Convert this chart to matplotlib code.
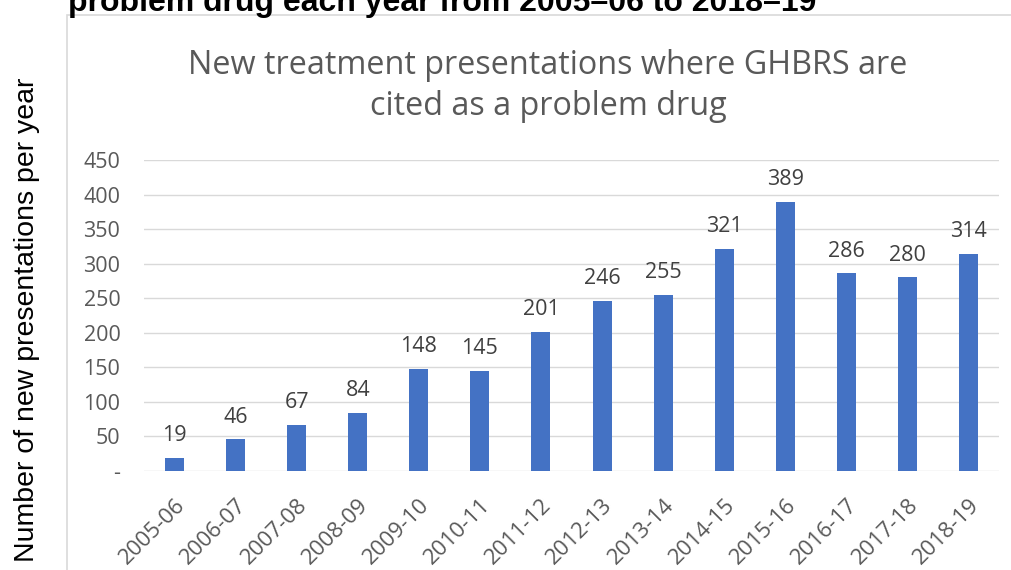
import numpy as np
from matplotlib import pyplot as plt
from matplotlib.patches import Rectangle
from matplotlib.transforms import ScaledTranslation

years = ['2005-06', '2006-07', '2007-08', '2008-09', '2009-10', '2010-11', '2011-12',
         '2012-13', '2013-14', '2014-15', '2015-16', '2016-17', '2017-18', '2018-19']
presentations = [19, 46, 67, 84, 148, 145, 201, 246, 255, 321, 389, 286, 280, 314]
y_ticks = [0, 50, 100, 150, 200, 250, 300, 350, 400, 450]
y_tick_labels = ['-', '50', '100', '150', '200', '250', '300', '350', '400', '450']

W, H = 1012, 570
fig = plt.figure(figsize=(W / 100, H / 100), dpi=100)

# chart frame (cropped from a document, so it runs off the right and bottom)
fig.patches.append(Rectangle((67 / W, -0.05), 1.0, 1 - 15 / H + 0.05,
                             transform=fig.transFigure, fill=False,
                             edgecolor='#d9d9d9', linewidth=1.2))

ax = fig.add_axes([144 / W, 1 - 471 / H, (999 - 144) / W, (471 - 160) / H])

x = np.arange(len(years))
ax.bar(x, presentations, width=0.31, color='#4472C4', zorder=3)
for xi, v in zip(x, presentations):
    ax.annotate(str(v), (xi, v), xytext=(0, 12), textcoords='offset points',
                ha='center', va='baseline', fontsize=15.5, color='#404040',
                family='Open Sans')

ax.set_xlim(-0.5, len(years) - 0.5)
ax.set_ylim(0, 450)
ax.set_yticks(y_ticks)
ax.set_yticklabels(y_tick_labels, family='Open Sans', fontsize=15.5, color='#595959')
ax.set_xticks(x)
ax.set_xticklabels(years, rotation=45, ha='right', rotation_mode='anchor',
                   family='Open Sans', fontsize=16, color='#595959')
shift = ScaledTranslation(10 / 100, 0, fig.dpi_scale_trans)
for lbl in ax.get_xticklabels():
    lbl.set_transform(lbl.get_transform() + shift)
ax.tick_params(axis='y', length=0, pad=17)
ax.tick_params(axis='x', length=0, pad=17)
ax.grid(axis='y', color='#d9d9d9', linewidth=1.0, zorder=0)
for s in ax.spines.values():
    s.set_visible(False)

fig.text(548 / W, 1 - 86 / H,
         'New treatment presentations where GHBRS are\ncited as a problem drug',
         ha='center', va='center', fontsize=23.3, color='#595959',
         family='Open Sans', linespacing=1.35)

fig.text(27 / W, 1 - 320 / H, 'Number of new presentations per year',
         rotation=90, ha='center', va='center', fontsize=20.5,
         family='Liberation Sans', color='black')

fig.text(68 / W, 1 - 11 / H,
         'problem drug each year from 2005\u201306 to 2018\u201319',
         ha='left', va='baseline', fontsize=23, fontweight='bold',
         family='Liberation Sans', color='black')

fig.savefig('out.png', dpi=100)
